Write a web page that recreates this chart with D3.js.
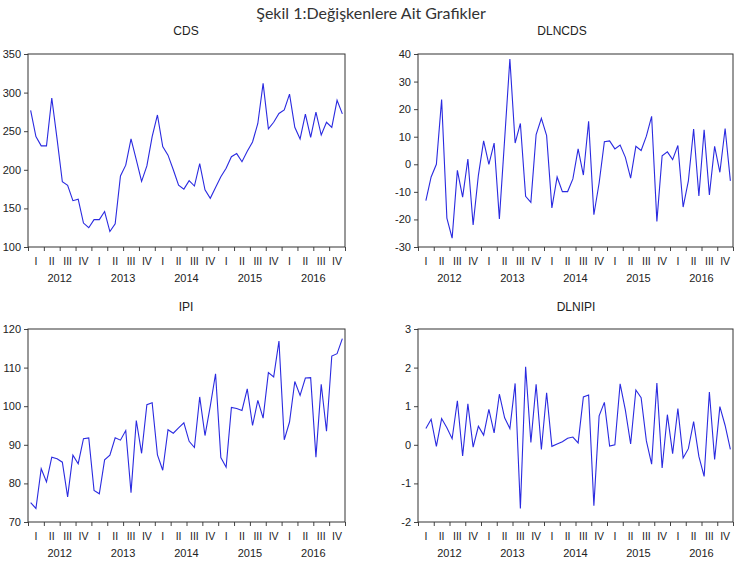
<!DOCTYPE html>
<html>
<head>
<meta charset="utf-8">
<script src="https://cdn.jsdelivr.net/npm/d3@7"></script>
<style>
  html, body { margin: 0; padding: 0; background: #fff; }
  svg text { font-family: "Liberation Sans", Arial, sans-serif; fill: #222; }
</style>
</head>
<body>
<svg id="chart" width="740" height="574"></svg>
<script>
// ---- Data (monthly, 2012M01 - 2016M12) ----
const years = ["2012", "2013", "2014", "2015", "2016"];
const quarterLabels = ["I", "II", "III", "IV"];

const cds = [277,243,231,231,293,240,184.5,180,160,162,
             131,125,135.5,135.5,146,120,130,192,206,240,
             213,185,205,243,271,230,219,200,180,175,
             186,179,208,174,163,177,191,202,217,221,
             210.5,224,236,260,312,253,261.6,273,277.6,298,
             255,240,272,242,274.6,245,261.6,255,290,272.5];

// first month has no value (difference series)
const dlncds = [null,
             -13.2,-4.6,0,23.5,-19.5,-26.8,-2.2,-11.9,1.9,-22,
             -4,8.5,0,7.7,-19.8,9,38.2,7.7,14.8,-11.6,
             -13.8,10.8,16.7,10.4,-15.8,-4.6,-9.9,-9.9,-5.3,5.6,
             -3.9,15.6,-18.3,-6.8,8.2,8.5,5.6,7,2.5,-5,
             6.5,5,10.2,17.4,-20.7,3.1,4.5,1.7,6.8,-15.5,
             -6,12.8,-11.5,12.5,-11.1,6.5,-2.9,13,-6];

const ipi = [75,73.5,83.8,80.4,86.8,86.4,85.5,76.5,87.3,85.1,
             91.6,91.8,78.2,77.3,86.1,87.3,91.8,91.2,93.7,77.6,
             96.3,87.8,100.4,100.9,87.4,83.4,93.9,93,94.4,95.7,
             90.9,89.3,102.4,92.4,100,108.4,86.7,84.2,99.7,99.4,
             98.9,104.5,95,101.5,96.9,108.7,107.6,116.9,91.3,95.9,
             106.4,102.8,107.3,107.4,86.8,105.7,93.5,113,113.6,117.5];

const dlnipi = [null,
             0.42,0.66,-0.04,0.68,0.44,0.16,1.14,-0.29,1.06,-0.06,
             0.48,0.25,0.92,0.31,1.31,0.7,0.42,1.59,-1.65,2.02,
             0.06,1.57,-0.12,1.35,-0.04,0.02,0.08,0.17,0.2,0.05,
             1.24,1.29,-1.58,0.75,1.1,-0.03,0.0,1.58,0.9,0.02,
             1.42,1.22,0.1,-0.5,1.6,-0.6,0.78,-0.23,0.94,-0.34,
             -0.1,0.6,-0.3,-0.82,1.37,-0.38,0.99,0.5,-0.12];

const cdsTicks = [100,150,200,250,300,350];
const dlncdsTicks = [-30,-20,-10,0,10,20,30,40];
const ipiTicks = [70,80,90,100,110,120];
const dlnipiTicks = [-2,-1,0,1,2,3];

const mainTitle = "Şekil 1:Değişkenlere Ait Grafikler";

// ---- Layout ----
const panels = [
  { title: "CDS",    values: cds,    ticks: cdsTicks,    x0: 28,  x1: 345, y0: 54,  y1: 247, tx: 186, ty: 35 },
  { title: "DLNCDS", values: dlncds, ticks: dlncdsTicks, x0: 418, x1: 733, y0: 54,  y1: 247, tx: 562, ty: 35 },
  { title: "IPI",    values: ipi,    ticks: ipiTicks,    x0: 28,  x1: 345, y0: 329, y1: 522, tx: 186, ty: 311 },
  { title: "DLNIPI", values: dlnipi, ticks: dlnipiTicks, x0: 418, x1: 733, y0: 329, y1: 522, tx: 576, ty: 311 }
];

const svg = d3.select("#chart");

svg.append("text")
  .attr("x", 371).attr("y", 19)
  .attr("text-anchor", "middle")
  .style("font-family", "Lato, 'Open Sans', sans-serif")
  .style("font-size", "16px")
  .style("fill", "#333")
  .text(mainTitle);

const nMonths = years.length * 12;

panels.forEach(p => {
  const g = svg.append("g");
  const x = d3.scaleLinear().domain([0, nMonths]).range([p.x0, p.x1]);
  const y = d3.scaleLinear().domain(d3.extent(p.ticks)).range([p.y1, p.y0]);

  // panel title
  g.append("text")
    .attr("x", p.tx).attr("y", p.ty)
    .attr("text-anchor", "middle")
    .style("font-size", "12px")
    .text(p.title);

  // y axis
  const ya = g.append("g")
    .attr("transform", `translate(${p.x0},0)`)
    .call(d3.axisLeft(y).tickValues(p.ticks).tickSize(4).tickSizeOuter(0).tickPadding(3).tickFormat(d => String(d)));
  ya.select(".domain").remove();
  ya.selectAll("line").attr("stroke", "#444");
  ya.selectAll("text").style("font-size", "11px").style("font-family", "'Liberation Sans', Arial, sans-serif").attr("fill", "#222");

  // x axis (quarter boundary ticks)
  const xa = g.append("g")
    .attr("transform", `translate(0,${p.y1})`)
    .call(d3.axisBottom(x).tickValues(d3.range(0, nMonths + 1, 3)).tickSize(4).tickSizeOuter(0).tickFormat(""));
  xa.select(".domain").remove();
  xa.selectAll("line").attr("stroke", "#444");

  // quarter labels
  const qData = d3.range(years.length * 4);
  g.selectAll(".q").data(qData).enter().append("text")
    .attr("x", d => x(d * 3 + 1.5))
    .attr("y", p.y1 + 18)
    .attr("text-anchor", "middle")
    .style("font-size", "10.5px")
    .text(d => quarterLabels[d % 4]);

  // year labels
  g.selectAll(".yr").data(years).enter().append("text")
    .attr("x", (d, i) => x(i * 12 + 6))
    .attr("y", p.y1 + 35)
    .attr("text-anchor", "middle")
    .style("font-size", "11px")
    .text(d => d);

  // line
  const line = d3.line()
    .defined(d => d != null)
    .x((d, i) => x(i + 0.5))
    .y(d => y(d));
  g.append("path")
    .datum(p.values)
    .attr("fill", "none")
    .attr("stroke", "#2a2ae0")
    .attr("stroke-width", 1.1)
    .attr("stroke-linejoin", "miter")
    .attr("d", line);

  // frame
  g.append("rect")
    .attr("x", p.x0).attr("y", p.y0)
    .attr("width", p.x1 - p.x0).attr("height", p.y1 - p.y0)
    .attr("fill", "none")
    .attr("stroke", "#333")
    .attr("stroke-width", 1);
});
</script>
</body>
</html>
